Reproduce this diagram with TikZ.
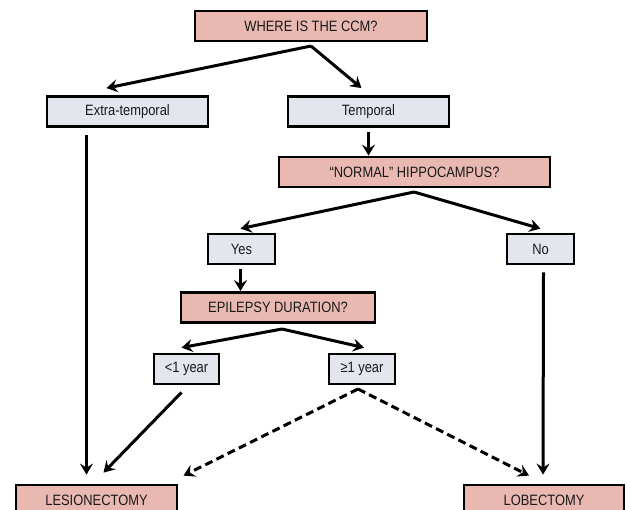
\documentclass[tikz,border=0pt]{standalone}
\usepackage{fontspec}
\setmainfont[FakeStretch=0.86]{Liberation Sans}
\usetikzlibrary{arrows.meta,calc}
\definecolor{pinkbox}{HTML}{E9B9B1}
\definecolor{greybox}{HTML}{E3E6EC}
\begin{document}
\begin{tikzpicture}[x=1pt,y=-1pt,
  qbox/.style={draw=black,line width=2.8pt,fill=pinkbox,minimum height=30pt,inner sep=0pt,font=\fontsize{15}{17}\selectfont,text=black!90},
  abox/.style={draw=black,line width=2.8pt,fill=greybox,minimum height=30pt,inner sep=0pt,font=\fontsize{15}{17}\selectfont,text=black!90},
  arr/.style={line width=3pt,-{Stealth[length=11pt,width=13pt,inset=4pt]}},
  darr/.style={line width=3pt,dash pattern=on 8pt off 4.5pt,-{Stealth[length=11pt,width=13pt,inset=4pt]}}]
\useasboundingbox (0,0) rectangle (631,509);
\clip (0,0) rectangle (631,509);
\node[qbox,minimum width=232pt] (where) at (311,26) {WHERE IS THE CCM?};
\node[abox,minimum width=161pt] (ext) at (127.5,111.5) {Extra-temporal};
\node[abox,minimum width=161pt] (temp) at (368.5,111.5) {Temporal};
\node[qbox,minimum width=271pt] (hip) at (414.5,172) {``NORMAL'' HIPPOCAMPUS?};
\node[abox,minimum width=67pt] (yes) at (241.5,249) {Yes};
\node[abox,minimum width=67pt] (no) at (540.5,249) {No};
\node[qbox,minimum width=194pt] (epi) at (278,307.5) {EPILEPSY DURATION?};
\node[abox,minimum width=65pt] (lt) at (186.5,369) {<1 year};
\node[abox,minimum width=66pt] (ge) at (362,369) {≥1 year};
\node[qbox,minimum width=161pt] (les) at (96.5,500) {LESIONECTOMY};
\node[qbox,minimum width=160pt] (lob) at (544,500) {LOBECTOMY};
\coordinate (a1) at (311,46);
\coordinate (a2) at (414,192);
\coordinate (a3) at (282,329);
\coordinate (a4) at (358,389);
\draw[arr] (a1) -- ($(ext.north)+(-21,-7)$);
\draw[arr] (a1) -- ($(temp.north)+(-7,-7)$);
\draw[arr] ($(temp.south)+(0,4)$) -- (temp.south |- hip.north);
\draw[arr] (a2) -- ($(yes.north)+(-1,-4)$);
\draw[arr] (a2) -- ($(no.north)+(0,-4)$);
\draw[arr] ($(yes.south)+(-1,4)$) -- ($(yes.south |- epi.north)+(-1,0)$);
\draw[arr] (a3) -- ($(lt.north)+(-5,-5)$);
\draw[arr] (a3) -- ($(ge.north)+(2,-5)$);
\draw[arr] ($(ext.south)+(-41,7)$) -- ($(les.north)+(-10,-9)$);
\draw[arr] ($(lt.south)+(-5,7)$) -- ($(les.north)+(7,-11)$);
\draw[darr] (a4) -- ($(les.north)+(87,-8)$);
\draw[darr] (a4) -- ($(lob.north)+(-15,-8)$);
\draw[arr] ($(no.south)+(3,7)$) -- ($(lob.north)+(-1,-9)$);
\end{tikzpicture}
\end{document}
